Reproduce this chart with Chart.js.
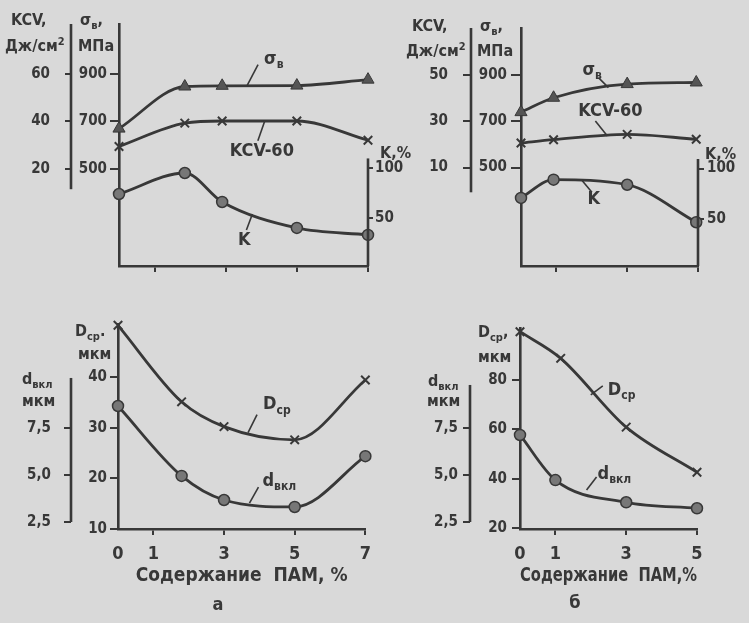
<!DOCTYPE html>
<html>
<head>
<meta charset="utf-8">
<script src="https://cdn.jsdelivr.net/npm/chart.js@4.4.0/dist/chart.umd.min.js"></script>
<style>
  html, body { margin: 0; padding: 0; background: #d9d9d9; }
  #wrap { position: relative; width: 749px; height: 623px; overflow: hidden; }
  canvas { position: absolute; }
</style>
</head>
<body>
<div id="wrap">
  <canvas id="aTop" width="415" height="290" style="left:0;top:0"></canvas>
  <canvas id="bTop" width="359" height="290" style="left:390px;top:0"></canvas>
  <canvas id="aBot" width="380" height="323" style="left:0;top:300px"></canvas>
  <canvas id="bBot" width="359" height="323" style="left:390px;top:300px"></canvas>
</div>
<script>
// --- данные ---
// а) верхний график
var xA = [0, 1.85, 2.9, 5, 7];
var sigmaA = [670, 847, 850, 851, 876];
var kcvA = [29.5, 39.3, 40.2, 40.2, 32.1];
var kA = [74, 95, 66, 40, 33];
// б) верхний график
var xB = [0, 0.92, 3, 4.95];
var sigmaB = [739, 801, 860, 867];
var kcvB = [20.6, 22, 24.3, 22.2];
var kB = [71, 89, 84, 47];
// а) нижний график
var xA2 = [0, 1.8, 3, 5, 7];
var dcpA = [50.2, 35.1, 30.2, 27.6, 39.4];
var dvklA = [8.67, 4.95, 3.67, 3.3, 6.0];
// б) нижний график
var xB2cp = [0, 1.15, 3, 5];
var dcpB = [99.6, 88.8, 60.9, 42.6];
var xB2vkl = [0, 1, 3, 5];
var dvklB = [7.13, 4.73, 3.55, 3.23];

// деления осей
var xTicksA = [0, 1, 3, 5, 7];
var xTicksB = [0, 1, 3, 5];
var sigmaTicks = [500, 700, 900];
var kcvTicksA = [20, 40, 60];
var kcvTicksB = [10, 30, 50];
var kTicks = [50, 100];
var dcpTicksA = [10, 20, 30, 40];
var dcpTicksB = [20, 40, 60, 80];
var dvklTicks = [2.5, 5, 7.5];

var xTitleA = 'Содержание  ПАМ, %';
var xTitleB = 'Содержание  ПАМ,%';

var FONT = '"DejaVu Sans Condensed", "Liberation Sans Narrow", "DejaVu Sans", sans-serif';
var INK = '#383838';

function pts(xs, ys) {
    return xs.map(function (x, i) { return { x: x, y: ys[i] }; });
}
function seg(main, sub, tail, sup) {
    var s = [{ t: main }];
    if (sub) s.push({ t: sub, sub: true });
    if (sup) s.push({ t: sup, sup: true });
    if (tail) s.push({ t: tail });
    return s;
}

function drawRich(ctx, segs, x, y, size, align) {
    var total = 0;
    var parts = segs.map(function (s) {
        var f = (s.sub || s.sup) ? Math.round(size * 0.68) : size;
        ctx.font = 'bold ' + f + 'px ' + FONT;
        var w = ctx.measureText(s.t).width;
        total += w;
        return { s: s, f: f, w: w };
    });
    var cx = align === 'center' ? x - total / 2 : x;
    ctx.textAlign = 'left';
    ctx.textBaseline = 'middle';
    parts.forEach(function (p) {
        ctx.font = 'bold ' + p.f + 'px ' + FONT;
        var dy = p.s.sub ? size * 0.32 : (p.s.sup ? -size * 0.3 : 0);
        ctx.fillText(p.s.t, cx, y + dy);
        cx += p.w;
    });
}

// рисует укороченные оси, подписи осей и выноски у кривых
var sketch = {
    id: 'sketch',
    afterDraw: function (chart, args, opts) {
        var ctx = chart.ctx;
        ctx.save();
        ctx.strokeStyle = INK;
        ctx.fillStyle = INK;
        (opts.lines || []).forEach(function (l) {
            var s = chart.scales[l.axis];
            var x = s.position === 'left' ? s.right : s.left;
            ctx.lineWidth = 2.6;
            ctx.beginPath();
            ctx.moveTo(x, s.getPixelForValue(l.from));
            ctx.lineTo(x, s.getPixelForValue(l.to));
            ctx.stroke();
        });
        (opts.notes || []).forEach(function (n) {
            var px = chart.scales.x.getPixelForValue(n.x);
            var py = chart.scales[n.axis].getPixelForValue(n.y);
            ctx.lineWidth = 1.6;
            ctx.beginPath();
            ctx.moveTo(px, py);
            ctx.lineTo(px + n.lx, py + n.ly);
            ctx.stroke();
            drawRich(ctx, n.segs, px + n.tx, py + n.ty, n.size || 18, n.align || 'left');
        });
        (opts.names || []).forEach(function (n) {
            drawRich(ctx, n.segs, n.x, n.y, n.size || 16, n.align || 'left');
        });
        ctx.restore();
    }
};

function line(label, data, axis, style) {
    var d = {
        label: label, data: data, yAxisID: axis,
        borderColor: INK, borderWidth: 2.8,
        cubicInterpolationMode: 'monotone', clip: false,
        pointBorderColor: INK, pointBackgroundColor: '#777'
    };
    if (style === 'tri') { d.pointStyle = 'triangle'; d.pointRadius = 7; d.pointBorderWidth = 1; d.pointBackgroundColor = '#555'; }
    if (style === 'x') { d.pointStyle = 'crossRot'; d.pointRadius = 6; d.pointBorderWidth = 2; }
    if (style === 'o') { d.pointStyle = 'circle'; d.pointRadius = 5.5; d.pointBorderWidth = 1.5; }
    return d;
}

function yAxis(pos, weight, min, max, ticks, width, tl, pad, fmt, border) {
    return {
        type: 'linear', position: pos, weight: weight, min: min, max: max,
        afterBuildTicks: function (s) { s.ticks = ticks.map(function (v) { return { value: v }; }); },
        afterFit: function (s) { s.width = width; },
        ticks: {
            autoSkip: false, color: INK, padding: pad,
            font: { family: FONT, size: 15, weight: 'bold' },
            callback: fmt || function (v) { return String(v); }
        },
        grid: { drawOnChartArea: false, color: INK, lineWidth: 2, tickLength: tl },
        border: { display: border !== false, color: INK, width: 2.6 }
    };
}

function xAxis(max, ticks, height, showLabels, title) {
    return {
        type: 'linear', position: 'bottom', min: 0, max: max,
        afterBuildTicks: function (s) { s.ticks = ticks.map(function (v) { return { value: v }; }); },
        afterFit: function (s) { s.height = height; },
        ticks: {
            display: showLabels, autoSkip: false, maxRotation: 0, color: INK, padding: 9,
            font: { family: FONT, size: 18, weight: 'bold' }
        },
        grid: {
            drawOnChartArea: false, lineWidth: 2, tickLength: 6,
            color: INK,
            tickColor: function (c) { return c.tick && c.tick.value === 0 ? 'rgba(0,0,0,0)' : INK; }
        },
        border: { color: INK, width: 2.6 },
        title: title ? {
            display: true, text: title, color: INK,
            font: { family: FONT, size: 19, weight: 'bold' },
            padding: { top: 0, bottom: 1 }
        } : { display: false }
    };
}

function make(id, datasets, scales, padding, sketchOpts) {
    return new Chart(document.getElementById(id).getContext('2d'), {
        type: 'line',
        data: { datasets: datasets },
        options: {
            responsive: false, animation: false, events: [],
            layout: { padding: padding },
            scales: scales,
            plugins: {
                legend: { display: false },
                tooltip: { enabled: false },
                title: { display: false },
                sketch: sketchOpts
            }
        },
        plugins: [sketch]
    });
}

function comma(v) { return v.toFixed(1).replace('.', ','); }

// а) верх
make('aTop', [
    line('σв', pts(xA, sigmaA), 'sigma', 'tri'),
    line('KCV-60', pts(xA, kcvA), 'kcv', 'x'),
    line('K', pts(xA, kA), 'k', 'o')
], {
    x: xAxis(7, xTicksA, 8, false),
    sigma: yAxis('left', 0, 92, 1110, sigmaTicks, 48, 9, 3),
    kcv: yAxis('left', 1, -20.8, 81, kcvTicksA, 71, 6, 15, null, false),
    k: yAxis('right', 0, 1.9, 244.2, kTicks, 45, 5, 2, null, false)
}, { left: 0, top: 24, right: 2, bottom: 5 }, {
    lines: [{ axis: 'kcv', from: 81, to: 11.5 }, { axis: 'k', from: 109.6, to: 1.9 }],
    notes: [
        { axis: 'sigma', x: 3.6, y: 851, lx: 11, ly: -21, tx: 17, ty: -26, segs: seg('σ', 'в') },
        { axis: 'kcv', x: 4.1, y: 40.3, lx: -7, ly: 20, tx: -3, ty: 31, align: 'center', segs: seg('KCV-60') },
        { axis: 'k', x: 3.75, y: 54, lx: -6, ly: 16, tx: -8, ty: 26, align: 'center', segs: seg('K') }
    ],
    names: [
        { x: 11, y: 21, segs: seg('KCV,') },
        { x: 5, y: 47, segs: seg('Дж/см', null, '', '2') },
        { x: 80, y: 21, segs: seg('σ', 'в', ',') },
        { x: 78, y: 47, segs: seg('МПа') },
        { x: 380, y: 154, segs: seg('K,%') }
    ]
});

// б) верх
make('bTop', [
    line('σв', pts(xB, sigmaB), 'sigma', 'tri'),
    line('KCV-60', pts(xB, kcvB), 'kcv', 'x'),
    line('K', pts(xB, kB), 'k', 'o')
], {
    x: xAxis(5, xTicksB, 8, false),
    sigma: yAxis('left', 0, 75.3, 1102, sigmaTicks, 50, 10, 4),
    kcv: yAxis('left', 1, -32.5, 70.2, kcvTicksB, 81, 8, 15, null, false),
    k: yAxis('right', 0, 3.8, 238.7, kTicks, 45, 6, 3, null, false)
}, { left: 0, top: 28, right: 6, bottom: 5 }, {
    lines: [{ axis: 'kcv', from: 70.2, to: -0.7 }, { axis: 'k', from: 109.4, to: 3.8 }],
    notes: [
        { axis: 'sigma', x: 2.47, y: 845, lx: -10, ly: -10, tx: -26, ty: -17, segs: seg('σ', 'в') },
        { axis: 'kcv', x: 2.44, y: 23.6, lx: -12, ly: -15, tx: 3, ty: -25, align: 'center', segs: seg('KCV-60') },
        { axis: 'k', x: 1.72, y: 88.5, lx: 10, ly: 12, tx: 12, ty: 19, align: 'center', segs: seg('K') }
    ],
    names: [
        { x: 22, y: 27, segs: seg('KCV,') },
        { x: 16, y: 52, segs: seg('Дж/см', null, '', '2') },
        { x: 90, y: 27, segs: seg('σ', 'в', ',') },
        { x: 87, y: 52, segs: seg('МПа') },
        { x: 315, y: 155, segs: seg('K,%') }
    ]
});

// а) низ
make('aBot', [
    line('Dср', pts(xA2, dcpA), 'dcp', 'x'),
    line('dвкл', pts(xA2, dvklA), 'dvkl', 'o')
], {
    x: xAxis(7, xTicksA, 59, true, xTitleA),
    dcp: yAxis('left', 0, 10, 50.46, dcpTicksA, 47, 8, 3),
    dvkl: yAxis('left', 1, 2.128, 13.03, dvklTicks, 71, 7, 13, comma, false)
}, { left: 0, top: 24, right: 13, bottom: 35 }, {
    lines: [{ axis: 'dvkl', from: 10.16, to: 2.5 }],
    notes: [
        { axis: 'dcp', x: 3.68, y: 29, lx: 9, ly: -18, tx: 15, ty: -28, segs: seg('D', 'ср') },
        { axis: 'dvkl', x: 3.72, y: 3.5, lx: 9, ly: -16, tx: 13, ty: -22, segs: seg('d', 'вкл') }
    ],
    names: [
        { x: 75, y: 32, segs: seg('D', 'ср', '.') },
        { x: 78, y: 55, segs: seg('мкм') },
        { x: 22, y: 80, segs: seg('d', 'вкл') },
        { x: 22, y: 102, segs: seg('мкм') },
        { x: 218, y: 305, size: 18, align: 'center', segs: seg('а') }
    ]
});

// б) низ
make('bBot', [
    line('Dср', pts(xB2cp, dcpB), 'dcp', 'x'),
    line('dвкл', pts(xB2vkl, dvklB), 'dvkl', 'o')
], {
    x: xAxis(5, xTicksB, 59, true, xTitleB),
    dcp: yAxis('left', 0, 19.6, 101.1, dcpTicksB, 50, 8, 5),
    dvkl: yAxis('left', 1, 2.128, 12.82, dvklTicks, 80, 7, 5, comma, false)
}, { left: 0, top: 28, right: 52, bottom: 35 }, {
    lines: [{ axis: 'dvkl', from: 9.79, to: 2.5 }],
    notes: [
        { axis: 'dcp', x: 2.0, y: 74, lx: 12, ly: -9, tx: 17, ty: -5, segs: seg('D', 'ср') },
        { axis: 'dvkl', x: 1.88, y: 4.2, lx: 10, ly: -13, tx: 11, ty: -16, segs: seg('d', 'вкл') }
    ],
    names: [
        { x: 88, y: 33, segs: seg('D', 'ср', ',') },
        { x: 88, y: 58, segs: seg('мкм') },
        { x: 38, y: 82, segs: seg('d', 'вкл') },
        { x: 37, y: 102, segs: seg('мкм') },
        { x: 185, y: 303, size: 18, align: 'center', segs: seg('б') }
    ]
});
</script>
</body>
</html>
